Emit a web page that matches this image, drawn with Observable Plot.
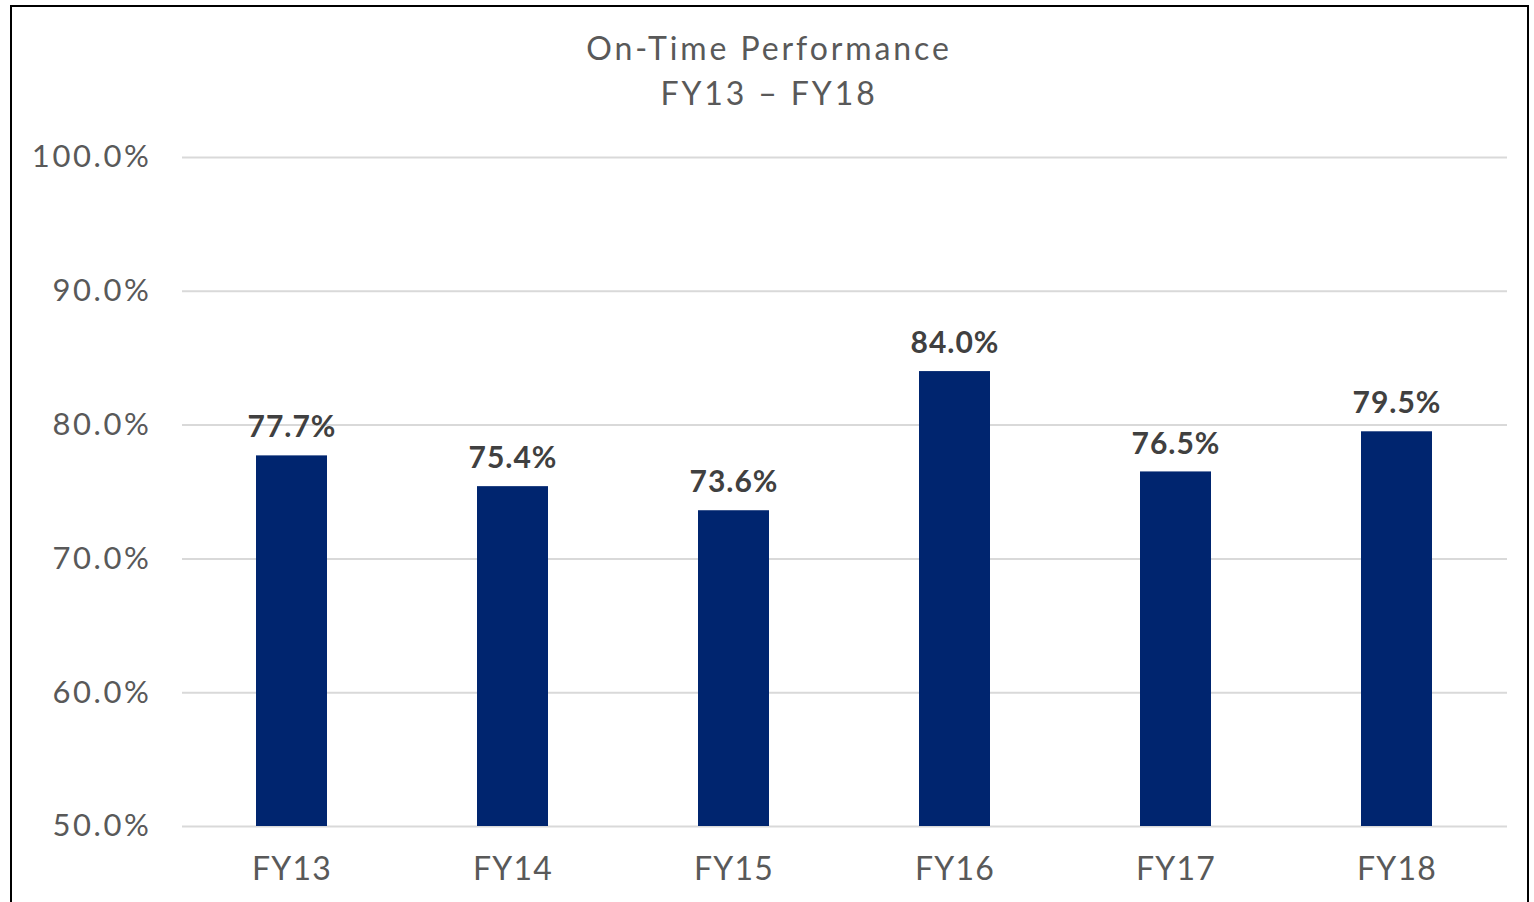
<!DOCTYPE html>
<html>
<head>
<meta charset="utf-8">
<script src="https://cdn.jsdelivr.net/npm/d3@7"></script>
<script src="https://cdn.jsdelivr.net/npm/@observablehq/plot@0.6"></script>
<style>
  html, body { margin: 0; padding: 0; background: #fff; width: 1534px; height: 902px; overflow: hidden; }
  #frame { position: absolute; left: 10px; top: 5px; width: 1519px; height: 905px; border: 2px solid #000; box-sizing: border-box; }
  #title { position: absolute; left: 0; top: 25px; width: 1538px; text-align: center; font-family: Lato, "Open Sans", sans-serif; font-size: 32px; line-height: 45px; letter-spacing: 2.9px; color: #595959; }
  #chart { position: absolute; left: 0; top: 0; }
  #chart g[aria-label="y-axis tick label"] text { letter-spacing: 2.6px; }
  #chart g[aria-label="x-axis tick label"] text { letter-spacing: 1.2px; }
  #chart g[aria-label="text"] text { letter-spacing: 1px; }
</style>
</head>
<body>
<div id="frame"></div>
<div id="title">On-Time Performance<br>FY13 – FY18</div>
<div id="chart"></div>
<script>
const years = ["FY13", "FY14", "FY15", "FY16", "FY17", "FY18"];
const onTime = [0.777, 0.754, 0.736, 0.840, 0.765, 0.795];
const yTicks = [0.5, 0.6, 0.7, 0.8, 0.9, 1.0];

const data = years.map((y, i) => ({year: y, value: onTime[i]}));
const pct = d3.format(".1%");

const chart = Plot.plot({
  width: 1534,
  height: 902,
  marginLeft: 182,
  marginRight: 27,
  marginTop: 157,
  marginBottom: 76,
  style: {fontFamily: "Lato, 'Open Sans', sans-serif", background: "transparent", color: "#595959"},
  x: {domain: years, range: [180.4, 1507.6], paddingInner: 0.68, paddingOuter: 0.34, label: null},
  y: {domain: [0.5, 1.0], label: null},
  marks: [
    Plot.gridY(yTicks, {stroke: "#d9d9d9", strokeOpacity: 1, strokeWidth: 2}),
    Plot.axisY(yTicks, {tickSize: 0, tickPadding: 31, tickFormat: pct, fontSize: 31, fill: "#595959", label: null}),
    Plot.axisX({tickSize: 0, tickPadding: 31, fontSize: 32, fill: "#595959", label: null}),
    Plot.barY(data, {x: "year", y1: 0.5, y2: "value", fill: "#00256f"}),
    Plot.text(data, {x: "year", y: "value", text: d => pct(d.value), dy: -28, fontSize: 30, fontWeight: "bold", fill: "#404040"})
  ]
});
document.getElementById("chart").appendChild(chart);
</script>
</body>
</html>
